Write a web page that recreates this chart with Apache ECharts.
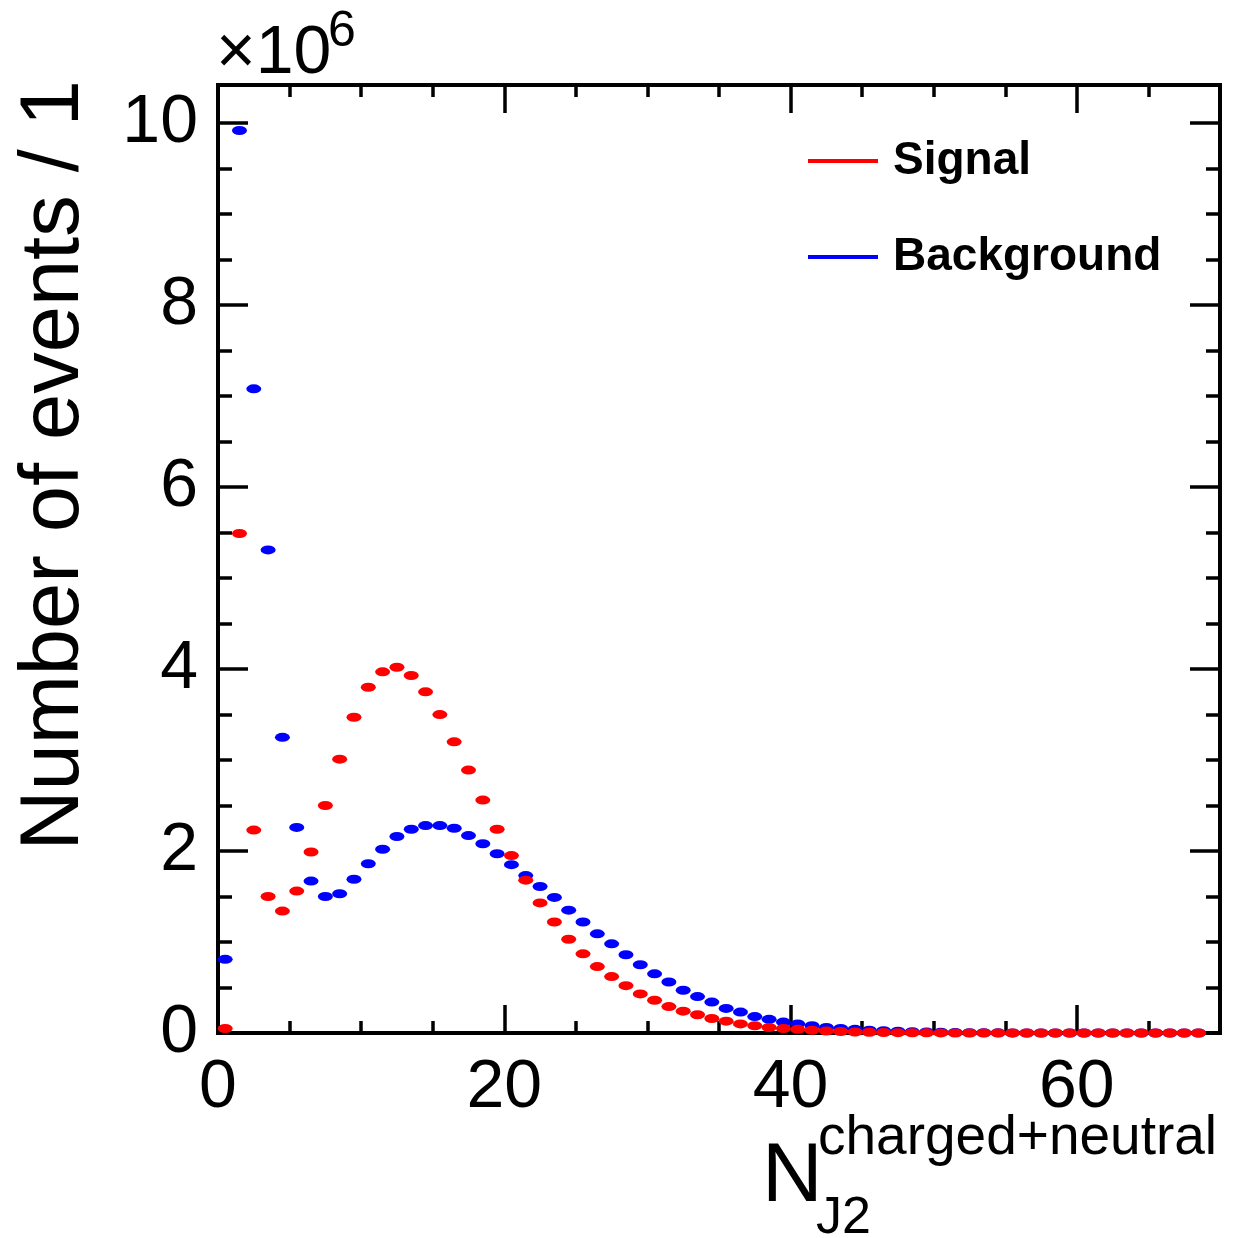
<!DOCTYPE html>
<html>
<head>
<meta charset="utf-8">
<script src="https://cdn.jsdelivr.net/npm/echarts@6/dist/echarts.min.js"></script>
<style>
html,body{margin:0;padding:0;background:#fff;}
#chart{width:1249px;height:1238px;}
</style>
</head>
<body>
<div id="chart"></div>
<script>
// ---- data (values in units of 10^6 events per bin of width 1) ----
const binLow = 0;
const binWidth = 1;
const signalValues = [
  0.05, 5.49, 2.23, 1.50, 1.34, 1.56, 1.99, 2.50, 3.01, 3.47,
  3.80, 3.97, 4.02, 3.93, 3.75, 3.50, 3.20, 2.89, 2.56, 2.24,
  1.95, 1.68, 1.43, 1.22, 1.03, 0.87, 0.73, 0.62, 0.52, 0.43,
  0.36, 0.29, 0.24, 0.20, 0.16, 0.13, 0.10, 0.08, 0.06, 0.05,
  0.04, 0.03, 0.022, 0.016, 0.011, 0.008, 0.005, 0.004, 0.003, 0.002,
  0.001, 0, 0, 0, 0, 0, 0, 0, 0, 0,
  0, 0, 0, 0, 0, 0, 0, 0, 0
];
const backgroundValues = [
  0.81, 9.92, 7.08, 5.31, 3.25, 2.26, 1.67, 1.50, 1.53, 1.69,
  1.86, 2.02, 2.16, 2.24, 2.28, 2.28, 2.25, 2.17, 2.08, 1.97,
  1.85, 1.73, 1.61, 1.49, 1.35, 1.22, 1.09, 0.98, 0.86, 0.75,
  0.65, 0.56, 0.47, 0.40, 0.34, 0.27, 0.23, 0.18, 0.15, 0.12,
  0.10, 0.08, 0.06, 0.05, 0.04, 0.03, 0.025, 0.02, 0.015, 0.011,
  0.008, 0.006, 0.004, 0.003, 0.002, 0.001, 0, 0, 0, 0,
  0, 0, 0, 0, 0, 0, 0, 0, 0
];
const seriesNames = ['Signal', 'Background'];
const xRange = [0, 70];
const yRange = [0, 10.42];
const xTickMajor = 20, xTickMinor = 5;
const yTickMajor = 2, yTickMinor = 0.5;

// bin centres
const binCenters = signalValues.map((_, i) => binLow + (i + 0.5) * binWidth);
const toPairs = vals => vals.map((v, i) => [binCenters[i], v]);

const FONT = 'Liberation Sans';
const tickStyle = {color: '#000', width: 3.5};

function xAx(pos, interval, len, labels) {
  return {
    type: 'value', position: pos, min: xRange[0], max: xRange[1], interval: interval,
    axisLine: {show: false, onZero: false},
    axisTick: {show: true, inside: true, length: len, lineStyle: tickStyle},
    splitLine: {show: false},
    axisLabel: labels ? {show: true, fontSize: 68, color: '#000', fontFamily: FONT, margin: 21, showMaxLabel: false} : {show: false}
  };
}
function yAx(pos, interval, len, labels) {
  return {
    type: 'value', position: pos, min: yRange[0], max: yRange[1], interval: interval,
    axisLine: {show: false, onZero: false},
    axisTick: {show: true, inside: true, length: len, lineStyle: tickStyle},
    splitLine: {show: false},
    axisLabel: labels ? {show: true, fontSize: 68, color: '#000', fontFamily: FONT, margin: 20, showMaxLabel: false} : {show: false}
  };
}

const chart = echarts.init(document.getElementById('chart'), null, {renderer: 'canvas'});
chart.setOption({
  animation: false,
  backgroundColor: '#fff',
  grid: {left: 218, right: 29, top: 85, bottom: 205, show: true, borderColor: '#000', borderWidth: 4,
         backgroundColor: 'transparent', containLabel: false, outerBoundsMode: 'none'},
  xAxis: [
    xAx('bottom', xTickMajor, 28, true),
    xAx('bottom', xTickMinor, 12, false),
    xAx('top', xTickMajor, 28, false),
    xAx('top', xTickMinor, 12, false)
  ],
  yAxis: [
    yAx('left', yTickMajor, 30, true),
    yAx('left', yTickMinor, 14, false),
    yAx('right', yTickMajor, 30, false),
    yAx('right', yTickMinor, 14, false)
  ],
  legend: {
    orient: 'vertical', left: 808, top: 133, padding: 0,
    itemWidth: 70, itemHeight: 4, itemGap: 40,
    textStyle: {fontSize: 46, fontWeight: 'bold', color: '#000', fontFamily: FONT, lineHeight: 56, padding: [0, 0, 0, 10]},
    data: [
      {name: seriesNames[0], icon: 'rect', itemStyle: {color: '#ff0000'}},
      {name: seriesNames[1], icon: 'rect', itemStyle: {color: '#0000ff'}}
    ]
  },
  series: [
    {type: 'scatter', name: seriesNames[1], xAxisIndex: 0, yAxisIndex: 0, data: toPairs(backgroundValues),
     symbol: 'circle', symbolSize: [15, 9], itemStyle: {color: '#0000ff', opacity: 1}, silent: true},
    {type: 'scatter', name: seriesNames[0], xAxisIndex: 0, yAxisIndex: 0, data: toPairs(signalValues),
     symbol: 'circle', symbolSize: [15, 9], itemStyle: {color: '#ff0000', opacity: 1}, silent: true}
  ],
  graphic: [
    {type: 'text', x: 55, y: 80, rotation: Math.PI / 2,
     style: {text: 'Number of events / 1', font: '83px "Liberation Sans"', fill: '#000', textAlign: 'right', textVerticalAlign: 'middle'}},
    {type: 'text', x: 216, y: 54,
     style: {text: '\u00d710', font: '68px "Liberation Sans"', fill: '#000', textAlign: 'left', textVerticalAlign: 'middle'}},
    {type: 'text', x: 328, y: 32,
     style: {text: '6', font: '50px "Liberation Sans"', fill: '#000', textAlign: 'left', textVerticalAlign: 'middle'}},
    {type: 'text', x: 762, y: 1178,
     style: {text: 'N', font: '84px "Liberation Sans"', fill: '#000', textAlign: 'left', textVerticalAlign: 'middle'}},
    {type: 'text', x: 818, y: 1139,
     style: {text: 'charged+neutral', font: '55px "Liberation Sans"', fill: '#000', textAlign: 'left', textVerticalAlign: 'middle'}},
    {type: 'text', x: 816, y: 1219,
     style: {text: 'J2', font: '52px "Liberation Sans"', fill: '#000', textAlign: 'left', textVerticalAlign: 'middle'}}
  ]
});
</script>
</body>
</html>
